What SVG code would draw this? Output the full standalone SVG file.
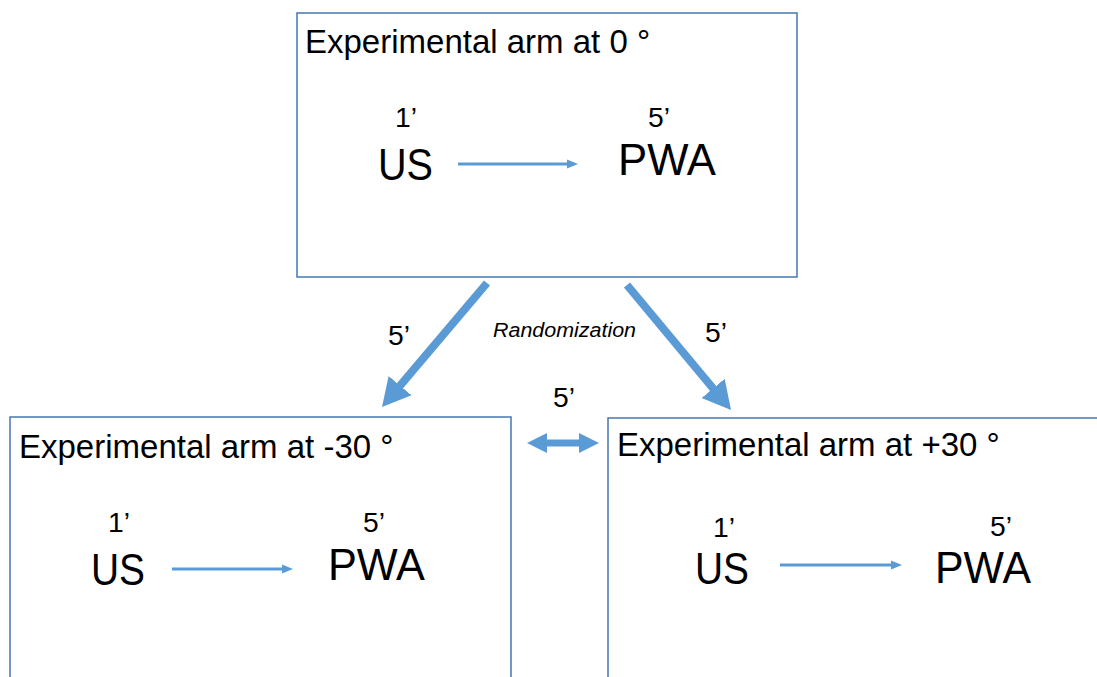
<svg xmlns="http://www.w3.org/2000/svg" width="1097" height="677" viewBox="0 0 1097 677">
<style>
.box{fill:#fff;stroke:#4677b0;stroke-width:1.5}
.t{font-family:"Liberation Sans",Arial,sans-serif;fill:#000}
.title{font-size:33px}
.small{font-size:28px}
.big{font-size:45px}
.rand{font-size:20px;font-style:italic}
.thin{stroke:#5b9bd5;stroke-width:3;fill:none}
.thick{stroke:#5b9bd5;stroke-width:8;fill:none}
.dbl{stroke:#5b9bd5;stroke-width:7;fill:none}
</style>
<defs>
<marker id="hs" markerUnits="userSpaceOnUse" markerWidth="12" markerHeight="10" refX="1" refY="5" orient="auto"><path d="M0,0.5 L11,5 L0,9.5 z" fill="#5b9bd5"/></marker>
<marker id="hb" markerUnits="userSpaceOnUse" markerWidth="30" markerHeight="32" refX="2" refY="16" orient="auto"><path d="M0,1 L28,16 L0,31 z" fill="#5b9bd5"/></marker>
<marker id="hd" markerUnits="userSpaceOnUse" markerWidth="22" markerHeight="22" refX="2" refY="11" orient="auto-start-reverse"><path d="M0,1 L20,11 L0,21 z" fill="#5b9bd5"/></marker>
</defs>
<g id="node-top">
<rect class="box" x="297" y="13" width="500" height="264"/>
<text class="t title" x="305" y="53">Experimental arm at 0 °</text>
<text class="t small" x="395" y="127" textLength="22" lengthAdjust="spacingAndGlyphs">1’</text>
<text class="t big" x="378" y="180" textLength="55" lengthAdjust="spacingAndGlyphs">US</text>
<text class="t small" x="648" y="127" textLength="22" lengthAdjust="spacingAndGlyphs">5’</text>
<text class="t big" x="618" y="175" textLength="98" lengthAdjust="spacingAndGlyphs">PWA</text>
</g>
<g id="node-left">
<rect class="box" x="10" y="417" width="501" height="280"/>
<text class="t title" x="19" y="458">Experimental arm at -30 °</text>
<text class="t small" x="108" y="532" textLength="22" lengthAdjust="spacingAndGlyphs">1’</text>
<text class="t big" x="91" y="585" textLength="54" lengthAdjust="spacingAndGlyphs">US</text>
<text class="t small" x="363" y="532" textLength="22" lengthAdjust="spacingAndGlyphs">5’</text>
<text class="t big" x="328" y="580" textLength="97" lengthAdjust="spacingAndGlyphs">PWA</text>
</g>
<g id="node-right">
<rect class="box" x="608" y="418" width="520" height="280"/>
<text class="t title" x="617" y="456">Experimental arm at +30 °</text>
<text class="t small" x="713" y="537" textLength="22" lengthAdjust="spacingAndGlyphs">1’</text>
<text class="t big" x="695" y="584" textLength="54" lengthAdjust="spacingAndGlyphs">US</text>
<text class="t small" x="990" y="536" textLength="22" lengthAdjust="spacingAndGlyphs">5’</text>
<text class="t big" x="935" y="583" textLength="96" lengthAdjust="spacingAndGlyphs">PWA</text>
</g>
<g id="connectors">
<line class="thin" x1="458" y1="164" x2="568" y2="164" marker-end="url(#hs)"/>
<line class="thin" x1="172" y1="569" x2="283" y2="569" marker-end="url(#hs)"/>
<line class="thin" x1="780" y1="565" x2="892" y2="565" marker-end="url(#hs)"/>
<line class="thick" x1="487" y1="283" x2="398.8" y2="387.2" marker-end="url(#hb)"/>
<line class="thick" x1="627" y1="285" x2="714.4" y2="390" marker-end="url(#hb)"/>
<line class="dbl" x1="545" y1="443" x2="581" y2="443" marker-start="url(#hd)" marker-end="url(#hd)"/>
<text class="t small" x="388" y="345" textLength="22" lengthAdjust="spacingAndGlyphs">5’</text>
<text class="t rand" x="493" y="337" textLength="143" lengthAdjust="spacingAndGlyphs">Randomization</text>
<text class="t small" x="705" y="342" textLength="22" lengthAdjust="spacingAndGlyphs">5’</text>
<text class="t small" x="553" y="407" textLength="22" lengthAdjust="spacingAndGlyphs">5’</text>
</g>
</svg>
